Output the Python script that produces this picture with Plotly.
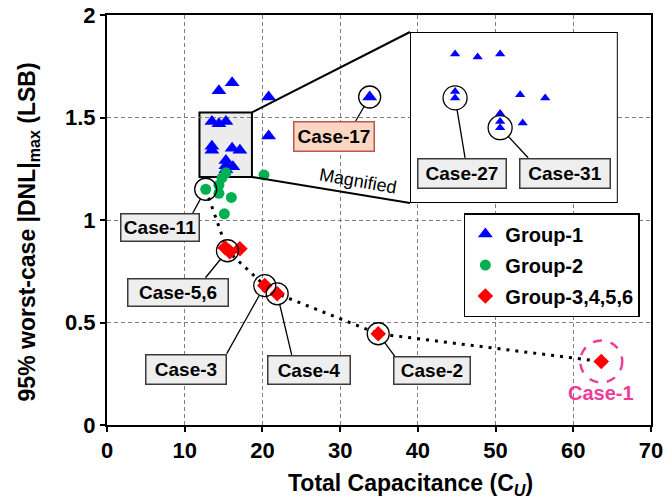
import math
import plotly.graph_objects as go

# ---------------- data ----------------
# Group-1 (blue triangles)
g1_x = [14.4, 16.1, 20.8, 13.5, 14.4, 15.3, 13.5, 13.5, 16.1, 17.1, 15.3, 15.3, 15.3, 16.2, 20.8, 33.8]
g1_y = [1.63, 1.67, 1.60, 1.48, 1.47, 1.48, 1.36, 1.34, 1.35, 1.34, 1.29, 1.265, 1.245, 1.26, 1.41, 1.60]

# Group-2 (green circles)
g2_x = [12.7, 14.4, 14.8, 15.3, 14.4, 16.0, 15.1, 20.2]
g2_y = [1.15, 1.17, 1.205, 1.23, 1.13, 1.11, 1.03, 1.22]

# Group-3,4,5,6 (red diamonds)
g3_x = [63.6, 34.9, 20.3, 21.9, 15.2, 15.8, 17.1]
g3_y = [0.31, 0.445, 0.68, 0.64, 0.865, 0.845, 0.86]

# Pareto trend through the best cases
trend_x = [12.7, 15.5, 20.3, 21.9, 34.9, 63.6]
trend_y = [1.15, 0.85, 0.68, 0.64, 0.445, 0.31]

# Labelled cases in the main plot
case_labels = ["Case-11", "Case-5,6", "Case-3", "Case-4", "Case-2", "Case-17"]
case_x = [12.7, 15.5, 20.3, 21.9, 34.9, 33.8]
case_y = [1.15, 0.85, 0.68, 0.64, 0.445, 1.60]

# Labelled cases in the magnified view
inset_labels = ["Case-27", "Case-31"]
inset_x = [13.5, 15.3]
inset_y = [1.34, 1.245]

# Selected design
best_label = "Case-1"
best_x = 63.6
best_y = 0.31

x_ticks = [0, 10, 20, 30, 40, 50, 60, 70]
y_ticks = [0, 0.5, 1, 1.5, 2]

x_title = "Total Capacitance (C<sub><i>U</i></sub>)"
y_title = "95% worst-case |DNL|<sub>max</sub> (LSB)"

# ---------------- layout constants ----------------
FONT = "Liberation Sans, Arial, sans-serif"
W, H = 664, 503
ML, MR, MT, MB = 107, 13, 15, 78
X_RANGE = [0, 70]
Y_RANGE = [0, 2]

# magnified window in the main plot and the inset frame
ZOOM_X = [11.9, 18.65]
ZOOM_Y = [1.21, 1.525]
INSET_DOM_X = [0.557, 0.939]
INSET_DOM_Y = [0.5415, 0.9585]
INSET_XR = [11.7, 20.0]
INSET_YR = [1.005, 1.55]

# label box geometry in pixels: centre offset (dx, dy down), size, leader attach point
label_geom = {
    "Case-11": (-46, 38, 80, 29, -13, 24),
    "Case-5,6": (-49, 42, 102, 29, -22, 27),
    "Case-3": (-79, 84, 82, 31, -38, 68),
    "Case-4": (31.5, 76, 84, 30, 14.5, 61),
    "Case-2": (54, 37, 78, 29, 17, 23),
    "Case-17": (-36, 39.5, 82, 31, -14, 24),
    "Case-27": (7, 75.6, 90, 31, 10, 60),
    "Case-31": (65, 46, 92, 31, 28, 30),
}

BLUE = "#0000ff"
GREEN = "#00b050"
RED = "#ff0000"
PINK = "#ee3d96"

fig = go.Figure()

# trend line
fig.add_trace(go.Scatter(
    x=trend_x, y=trend_y, mode="lines", showlegend=False, hoverinfo="skip",
    line=dict(color="black", width=3, dash="3px,6px"),
))

fig.add_trace(go.Scatter(
    x=g1_x, y=g1_y, mode="markers", name="Group-1", legendgroup="g1",
    marker=dict(symbol="triangle-up", size=13, color=BLUE),
))
fig.add_trace(go.Scatter(
    x=g2_x, y=g2_y, mode="markers", name="Group-2", legendgroup="g2",
    marker=dict(symbol="circle", size=11, color=GREEN),
))
fig.add_trace(go.Scatter(
    x=g3_x, y=g3_y, mode="markers", name="Group-3,4,5,6", legendgroup="g3",
    marker=dict(symbol="diamond", size=12, color=RED),
))

# magnified view of Group-1
fig.add_trace(go.Scatter(
    x=g1_x, y=g1_y, mode="markers", xaxis="x2", yaxis="y2", showlegend=False,
    marker=dict(symbol="triangle-up", size=9, color=BLUE),
))

shapes = []
annotations = []

# magnified window
shapes.append(dict(type="rect", xref="x", yref="y", layer="below",
                   x0=ZOOM_X[0], x1=ZOOM_X[1], y0=ZOOM_Y[0], y1=ZOOM_Y[1],
                   fillcolor="#ececec", line=dict(color="black", width=2)))
# inset frame (drawn in the inset subplot, under its markers)
shapes.append(dict(type="rect", xref="x2", yref="y2", layer="below",
                   x0=INSET_XR[0], x1=INSET_XR[1], y0=INSET_YR[0], y1=INSET_YR[1],
                   fillcolor="white", line=dict(color="black", width=2)))


def px_paper(xv):
    return (xv - X_RANGE[0]) / (X_RANGE[1] - X_RANGE[0])


def py_paper(yv):
    return (yv - Y_RANGE[0]) / (Y_RANGE[1] - Y_RANGE[0])


# connector lines from the window to the inset
shapes.append(dict(type="line", xref="paper", yref="paper", layer="above",
                   x0=px_paper(ZOOM_X[1]), y0=py_paper(ZOOM_Y[1]),
                   x1=INSET_DOM_X[0], y1=INSET_DOM_Y[1],
                   line=dict(color="black", width=2)))
shapes.append(dict(type="line", xref="paper", yref="paper", layer="above",
                   x0=px_paper(ZOOM_X[1]), y0=py_paper(ZOOM_Y[0]),
                   x1=INSET_DOM_X[0], y1=INSET_DOM_Y[0],
                   line=dict(color="black", width=2)))

annotations.append(dict(text="Magnified", xref="paper", yref="paper",
                        x=0.461, y=0.596, showarrow=False, textangle=10,
                        font=dict(family=FONT, size=18, color="black")))


def add_case(label, xv, yv, xref, yref, radius, fill, border):
    dx, dy, w, h, ax, ay = label_geom[label]
    # circle round the point
    shapes.append(dict(type="circle", xref=xref, yref=yref, layer="above",
                       xsizemode="pixel", ysizemode="pixel",
                       xanchor=xv, yanchor=yv,
                       x0=-radius, x1=radius, y0=-radius, y1=radius,
                       line=dict(color="black", width=1.3)))
    # leader line from circle edge to the label box
    d = math.hypot(ax, ay)
    ux, uy = ax / d, ay / d
    shapes.append(dict(type="line", xref=xref, yref=yref, layer="above",
                       xsizemode="pixel", ysizemode="pixel",
                       xanchor=xv, yanchor=yv,
                       x0=radius * ux, y0=-radius * uy, x1=ax, y1=-ay,
                       line=dict(color="black", width=1.3)))
    annotations.append(dict(text=label, xref=xref, yref=yref, x=xv, y=yv,
                            xshift=dx, yshift=-dy, showarrow=False,
                            width=w - 3, height=h - 3, borderpad=0,
                            bgcolor=fill, bordercolor=border, borderwidth=1.5,
                            align="center", valign="middle",
                            font=dict(family=FONT, size=19, color="black", weight="bold")))


for lab, xv, yv in zip(case_labels, case_x, case_y):
    if lab == "Case-17":
        add_case(lab, xv, yv, "x", "y", 11, "#fbd6c2", "#b9574f")
    else:
        add_case(lab, xv, yv, "x", "y", 11, "#eeeeee", "#3a3a3a")

for lab, xv, yv in zip(inset_labels, inset_x, inset_y):
    add_case(lab, xv, yv, "x2", "y2", 12, "#eeeeee", "#3a3a3a")

# selected design: dashed circle and coloured label
shapes.append(dict(type="circle", xref="x", yref="y", layer="above",
                   xsizemode="pixel", ysizemode="pixel",
                   xanchor=best_x, yanchor=best_y, x0=-21, x1=21, y0=-21, y1=21,
                   line=dict(color=PINK, width=2.5, dash="dash")))
annotations.append(dict(text=best_label, xref="x", yref="y", x=best_x, y=best_y,
                        yshift=-32, showarrow=False,
                        font=dict(family=FONT, size=20, color=PINK, weight="bold")))

# axis titles
annotations.append(dict(text=x_title, xref="paper", yref="paper", x=0.557, y=-0.146,
                        xanchor="center", yanchor="middle", showarrow=False,
                        font=dict(family=FONT, size=23, color="black", weight="bold")))
annotations.append(dict(text=y_title, xref="paper", yref="paper", x=-0.145, y=0.47,
                        xanchor="center", yanchor="middle", showarrow=False, textangle=-90,
                        font=dict(family=FONT, size=23, color="black", weight="bold")))

axis_common = dict(
    showline=True, linecolor="black", linewidth=2, mirror=True,
    ticks="outside", ticklen=5, tickwidth=2, tickcolor="black",
    showgrid=True, gridcolor="#808080", gridwidth=1, griddash="4px,3px",
    zeroline=False, ticklabeloverflow="allow", automargin=False,
    tickfont=dict(family=FONT, size=22, color="black", weight="bold"),
)

# inner half of the crossing tick marks
inner_ticks = dict(ticks="inside", ticklen=5, tickwidth=2, tickcolor="black",
                   showticklabels=False, showgrid=False, showline=False,
                   zeroline=False, automargin=False)

fig.update_layout(
    width=W, height=H,
    margin=dict(l=ML, r=MR, t=MT, b=MB, autoexpand=False),
    paper_bgcolor="white", plot_bgcolor="white",
    shapes=shapes, annotations=annotations,
    xaxis=dict(range=X_RANGE, tickvals=x_ticks, **axis_common),
    yaxis=dict(range=Y_RANGE, tickvals=y_ticks, **axis_common),
    xaxis3=dict(range=X_RANGE, tickvals=x_ticks[1:-1], overlaying="x", anchor="y", **inner_ticks),
    yaxis3=dict(range=Y_RANGE, tickvals=y_ticks[1:-1], overlaying="y", anchor="x", **inner_ticks),
    xaxis2=dict(domain=INSET_DOM_X, range=INSET_XR, anchor="y2", visible=False),
    yaxis2=dict(domain=INSET_DOM_Y, range=INSET_YR, anchor="x2", visible=False),
    legend=dict(x=0.656, y=0.517, xanchor="left", yanchor="top",
                bgcolor="white", bordercolor="black", borderwidth=1.5,
                traceorder="grouped", tracegroupgap=2,
                font=dict(family=FONT, size=20, color="black", weight="bold")),
    showlegend=True,
)

fig.write_html("out.html")
